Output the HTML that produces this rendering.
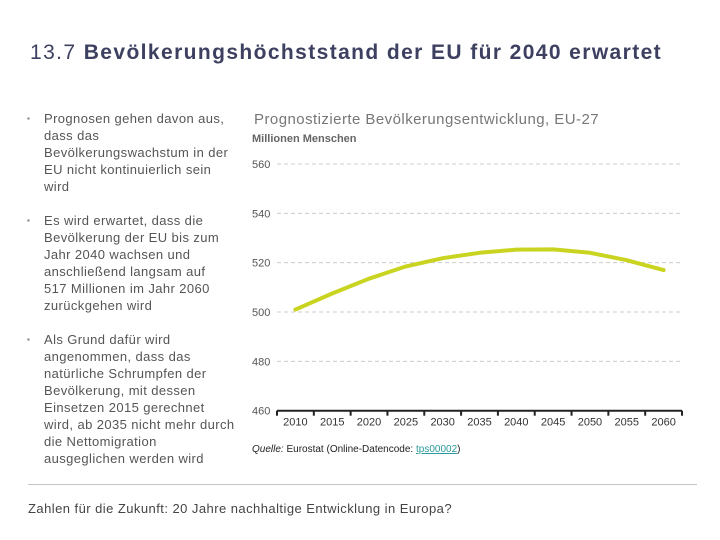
<!DOCTYPE html>
<html><head><meta charset="utf-8">
<style>
body{margin:0;width:720px;height:540px;background:#fff;font-family:"Liberation Sans",sans-serif;position:relative;overflow:hidden}
.abs{position:absolute}
#title{left:30px;top:41px;font-size:21px;color:#3d4060;white-space:nowrap;letter-spacing:1.4px}
#title b{font-weight:bold}
ul{position:absolute;left:18px;top:110px;margin:0;padding:0;list-style:none;width:230px}
li{position:relative;padding-left:26px;font-size:13px;line-height:17px;color:#555;margin-bottom:17px;letter-spacing:0.4px;white-space:nowrap}
li:before{content:"▪";position:absolute;left:9px;top:0;font-size:8px;color:#777}
#ctitle{left:254px;top:111px;font-size:15px;color:#777;white-space:nowrap;letter-spacing:0.45px}
#unit{left:252px;top:133px;font-size:11px;font-weight:bold;color:#666}
#rule{left:28px;top:484px;width:669px;height:1px;background:#c4c4c4}
#foot{left:28px;top:501px;font-size:13px;color:#444;letter-spacing:0.45px}
#src{left:252px;top:444px;font-size:10px;color:#222}
#src a{color:#2a9a9a;text-decoration:underline}
</style></head><body>
<div class="abs" id="title">13.7 <b>Bevölkerungshöchststand der EU für 2040 erwartet</b></div>
<ul>
<li>Prognosen gehen davon aus,<br>dass das<br>Bevölkerungswachstum in der<br>EU nicht kontinuierlich sein<br>wird</li>
<li>Es wird erwartet, dass die<br>Bevölkerung der EU bis zum<br>Jahr 2040 wachsen und<br>anschließend langsam auf<br>517 Millionen im Jahr 2060<br>zurückgehen wird</li>
<li>Als Grund dafür wird<br>angenommen, dass das<br>natürliche Schrumpfen der<br>Bevölkerung, mit dessen<br>Einsetzen 2015 gerechnet<br>wird, ab 2035 nicht mehr durch<br>die Nettomigration<br>ausgeglichen werden wird</li>
</ul>
<div class="abs" id="ctitle">Prognostizierte Bevölkerungsentwicklung, EU-27</div>
<div class="abs" id="unit">Millionen Menschen</div>
<svg class="abs" id="chart" style="left:0;top:0" width="720" height="540"></svg>
<div class="abs" id="src"><i>Quelle:</i> Eurostat (Online-Datencode: <a>tps00002</a>)</div>
<div class="abs" id="rule"></div>
<div class="abs" id="foot">Zahlen für die Zukunft: 20 Jahre nachhaltige Entwicklung in Europa?</div>
<script>
const years=["2010","2015","2020","2025","2030","2035","2040","2045","2050","2055","2060"];
const population=[501,507.5,513.5,518.5,521.8,524,525.3,525.4,524,521,517];
const yTicks=[460,480,500,520,540,560];
const svg=document.getElementById('chart');
const NS='http://www.w3.org/2000/svg';
const x0=277,x1=682,yBase=410.7,yTop=164,vMin=460,vMax=560;
const bw=(x1-x0)/years.length;
const X=i=>x0+bw*(i+0.5);
const Y=v=>yBase-(v-vMin)/(vMax-vMin)*(yBase-yTop);
function mk(t,a){const e=document.createElementNS(NS,t);for(const k in a)e.setAttribute(k,a[k]);svg.appendChild(e);return e;}
yTicks.forEach(v=>{
 if(v>vMin){const g=mk('line',{x1:x0,x2:x1,y1:Y(v),y2:Y(v),stroke:'#ccc','stroke-dasharray':'4,3','stroke-width':1});
 
 }
 const t=mk('text',{x:252,y:Y(v)+4,'font-size':11,fill:'#555','font-family':'Liberation Sans, sans-serif'});
 t.textContent=v;
 
 
});
const ax=mk('line',{x1:x0,x2:x1,y1:yBase,y2:yBase,stroke:'#222','stroke-width':2});


for(let i=0;i<=years.length;i++){
 const tk=mk('line',{x1:x0+bw*i,x2:x0+bw*i,y1:yBase,y2:yBase+5,stroke:'#222','stroke-width':2});
 
 
}
years.forEach((y,i)=>{
 const t=mk('text',{x:X(i),y:yBase+15,'font-size':11,fill:'#333','text-anchor':'middle','font-family':'Liberation Sans, sans-serif'});
 t.textContent=y;
 
 
});
const d=population.map((v,i)=>(i?'L':'M')+X(i).toFixed(1)+','+Y(v).toFixed(1)).join(' ');
const p=mk('path',{d:d,fill:'none',stroke:'#c9d420','stroke-width':4,'stroke-linejoin':'round','stroke-linecap':'round'});


</script>
</body></html>
